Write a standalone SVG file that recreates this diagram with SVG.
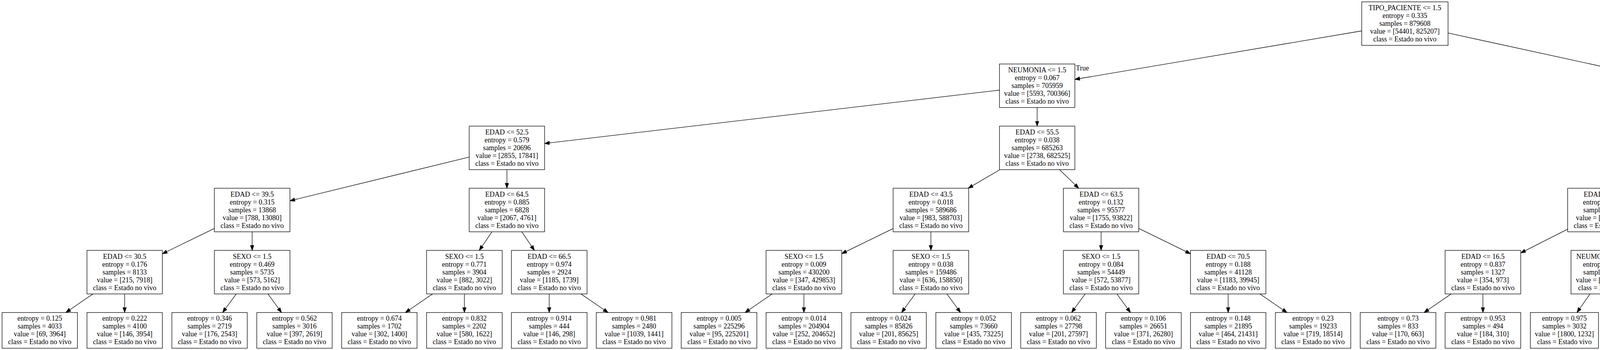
<svg xmlns="http://www.w3.org/2000/svg" width="6861" height="895" viewBox="0 0 6861 895">
<style>
.b{fill:#fff;stroke:#000;stroke-width:1.3}
.t{font-family:"Liberation Serif","Times New Roman",serif;font-size:18px;fill:#000;text-anchor:middle}
.e{stroke:#000;stroke-width:1.3;fill:none;marker-end:url(#ah)}
</style>
<defs>
<marker id="ah" markerUnits="userSpaceOnUse" markerWidth="14" markerHeight="10" refX="13" refY="4.7" orient="auto" viewBox="0 0 14 10">
<path d="M0,0 L13,4.7 L0,9.4 Z" fill="#000" stroke="#000" stroke-width="1"/>
</marker>
</defs>
<rect x="0" y="0" width="6861" height="895" fill="#fff"/>
<g id="edges">
<line class="e" x1="3486" y1="79" x2="2751.5" y2="203"/>
<line class="e" x1="3707" y1="84.4" x2="4226" y2="197.2"/>
<line class="e" x1="2558.7" y1="230.5" x2="1394.1" y2="366.9"/>
<line class="e" x1="2655.1" y1="274.9" x2="2655.1" y2="322.5"/>
<line class="e" x1="4327.2" y1="274.9" x2="4327.2" y2="322.5"/>
<line class="e" x1="4428.8" y1="232" x2="5495.4" y2="366"/>
<line class="e" x1="1201.3" y1="401.6" x2="742.3" y2="513.5"/>
<line class="e" x1="1297.7" y1="433.8" x2="1297.7" y2="481.4"/>
<line class="e" x1="2559.8" y1="433.8" x2="2478.4" y2="481.4"/>
<line class="e" x1="2712.4" y1="433.8" x2="2761.5" y2="481.4"/>
<line class="e" x1="4250.9" y1="433.8" x2="4185.8" y2="481.4"/>
<line class="e" x1="4401.3" y1="433.8" x2="4464.8" y2="481.4"/>
<line class="e" x1="5592.2" y1="433.8" x2="5592.2" y2="481.4"/>
<line class="e" x1="5689" y1="402.9" x2="6118.5" y2="512.4"/>
<line class="e" x1="548.7" y1="584.2" x2="415.6" y2="649"/>
<line class="e" x1="645.5" y1="592.7" x2="645.5" y2="640.3"/>
<line class="e" x1="1259.6" y1="592.7" x2="1226.9" y2="640.3"/>
<line class="e" x1="1335.6" y1="592.7" x2="1368.1" y2="640.3"/>
<line class="e" x1="2286.5" y1="584.3" x2="2154.8" y2="648.6"/>
<line class="e" x1="2383.1" y1="592.7" x2="2383.1" y2="640.3"/>
<line class="e" x1="2818.8" y1="592.7" x2="2818.8" y2="640.3"/>
<line class="e" x1="2915.3" y1="584.2" x2="3047.7" y2="648.9"/>
<line class="e" x1="4013.3" y1="585.9" x2="3893.1" y2="646.9"/>
<line class="e" x1="4109.7" y1="592.7" x2="4109.7" y2="640.3"/>
<line class="e" x1="4539" y1="592.7" x2="4539" y2="640.3"/>
<line class="e" x1="4635.4" y1="584.2" x2="4767.6" y2="648.8"/>
<line class="e" x1="5555.9" y1="592.7" x2="5524.8" y2="640.3"/>
<line class="e" x1="5628.7" y1="592.7" x2="5659.8" y2="640.3"/>
<line class="e" x1="6215" y1="592.7" x2="6215" y2="640.3"/>
<line class="e" x1="6311.5" y1="583.9" x2="6445.4" y2="648.9"/>
<line class="e" x1="237.9" y1="751.6" x2="168.4" y2="799.2"/>
<line class="e" x1="319.1" y1="751.6" x2="319.1" y2="799.2"/>
<line class="e" x1="604.8" y1="751.6" x2="569.9" y2="799.2"/>
<line class="e" x1="686" y1="751.6" x2="720.7" y2="799.2"/>
<line class="e" x1="1107.4" y1="751.6" x2="1037.8" y2="799.2"/>
<line class="e" x1="1188.8" y1="751.6" x2="1188.8" y2="799.2"/>
<line class="e" x1="1406" y1="751.6" x2="1406" y2="799.2"/>
<line class="e" x1="1487.2" y1="751.6" x2="1556.7" y2="799.2"/>
<line class="e" x1="1976.8" y1="751.6" x2="1907.3" y2="799.2"/>
<line class="e" x1="2058" y1="751.6" x2="2058" y2="799.2"/>
<line class="e" x1="2342.7" y1="751.6" x2="2308.1" y2="799.2"/>
<line class="e" x1="2424" y1="751.6" x2="2459" y2="799.2"/>
<line class="e" x1="2778.1" y1="751.6" x2="2743.2" y2="799.2"/>
<line class="e" x1="2859.3" y1="751.6" x2="2894" y2="799.2"/>
<line class="e" x1="3144.1" y1="751.6" x2="3144.1" y2="799.2"/>
<line class="e" x1="3225.3" y1="751.6" x2="3294.8" y2="799.2"/>
<line class="e" x1="3715.1" y1="751.6" x2="3645.6" y2="799.2"/>
<line class="e" x1="3796.3" y1="751.6" x2="3796.3" y2="799.2"/>
<line class="e" x1="4070.5" y1="751.6" x2="4037" y2="799.2"/>
<line class="e" x1="4148.2" y1="751.6" x2="4181.1" y2="799.2"/>
<line class="e" x1="4498.1" y1="751.6" x2="4463.1" y2="799.2"/>
<line class="e" x1="4579.3" y1="751.6" x2="4613.8" y2="799.2"/>
<line class="e" x1="4864" y1="751.6" x2="4864" y2="799.2"/>
<line class="e" x1="4945.4" y1="751.6" x2="5015" y2="799.2"/>
<line class="e" x1="5414.1" y1="751.6" x2="5350.5" y2="799.2"/>
<line class="e" x1="5488.5" y1="751.6" x2="5488.5" y2="799.2"/>
<line class="e" x1="5696.3" y1="751.6" x2="5696.3" y2="799.2"/>
<line class="e" x1="5773.1" y1="751.6" x2="5838.7" y2="799.2"/>
<line class="e" x1="6174.7" y1="751.6" x2="6140.3" y2="799.2"/>
<line class="e" x1="6255.9" y1="751.6" x2="6290.1" y2="799.2"/>
<line class="e" x1="6542.2" y1="751.6" x2="6542.2" y2="799.2"/>
<line class="e" x1="6623.3" y1="751.6" x2="6692.7" y2="799.2"/>
<text class="t" x="2771" y="180">True</text>
<text class="t" x="4206" y="173.5">False</text>
</g>
<g id="root" transform="translate(3596.5,4.7)"><rect class="b" x="-110.5" y="0" width="221" height="111.3"/><text class="t" y="21.3"><tspan x="0">TIPO_PACIENTE &lt;= 1.5</tspan><tspan x="0" dy="20">entropy = 0.335</tspan><tspan x="0" dy="20">samples = 879608</tspan><tspan x="0" dy="20">value = [54401, 825207]</tspan><tspan x="0" dy="20">class = Estado no vivo</tspan></text></g>
<g id="n1" transform="translate(2655.1,163.6)"><rect class="b" x="-96.5" y="0" width="193" height="111.3"/><text class="t" y="21.3"><tspan x="0">NEUMONIA &lt;= 1.5</tspan><tspan x="0" dy="20">entropy = 0.067</tspan><tspan x="0" dy="20">samples = 705959</tspan><tspan x="0" dy="20">value = [5593, 700366]</tspan><tspan x="0" dy="20">class = Estado no vivo</tspan></text></g>
<g id="n2" transform="translate(4327.4,163.6)"><rect class="b" x="-101.4" y="0" width="202.8" height="111.3"/><text class="t" y="21.3"><tspan x="0">EDAD &lt;= 49.5</tspan><tspan x="0" dy="20">entropy = 0.857</tspan><tspan x="0" dy="20">samples = 173649</tspan><tspan x="0" dy="20">value = [48808, 124841]</tspan><tspan x="0" dy="20">class = Estado no vivo</tspan></text></g>
<g id="n3" transform="translate(1297.7,322.5)"><rect class="b" x="-96.5" y="0" width="193" height="111.3"/><text class="t" y="21.3"><tspan x="0">EDAD &lt;= 52.5</tspan><tspan x="0" dy="20">entropy = 0.579</tspan><tspan x="0" dy="20">samples = 20696</tspan><tspan x="0" dy="20">value = [2855, 17841]</tspan><tspan x="0" dy="20">class = Estado no vivo</tspan></text></g>
<g id="n4" transform="translate(2655.1,322.5)"><rect class="b" x="-96.5" y="0" width="193" height="111.3"/><text class="t" y="21.3"><tspan x="0">EDAD &lt;= 55.5</tspan><tspan x="0" dy="20">entropy = 0.038</tspan><tspan x="0" dy="20">samples = 685263</tspan><tspan x="0" dy="20">value = [2738, 682525]</tspan><tspan x="0" dy="20">class = Estado no vivo</tspan></text></g>
<g id="n5" transform="translate(4327.2,322.5)"><rect class="b" x="-96.5" y="0" width="193" height="111.3"/><text class="t" y="21.3"><tspan x="0">INTUBADO &lt;= 1.5</tspan><tspan x="0" dy="20">entropy = 0.606</tspan><tspan x="0" dy="20">samples = 65573</tspan><tspan x="0" dy="20">value = [9727, 55846]</tspan><tspan x="0" dy="20">class = Estado no vivo</tspan></text></g>
<g id="n6" transform="translate(5592.2,322.5)"><rect class="b" x="-96.8" y="0" width="193.6" height="111.3"/><text class="t" y="21.3"><tspan x="0">INTUBADO &lt;= 1.5</tspan><tspan x="0" dy="20">entropy = 0.944</tspan><tspan x="0" dy="20">samples = 108076</tspan><tspan x="0" dy="20">value = [39081, 68995]</tspan><tspan x="0" dy="20">class = Estado no vivo</tspan></text></g>
<g id="n7" transform="translate(645.5,481.4)"><rect class="b" x="-96.8" y="0" width="193.6" height="111.3"/><text class="t" y="21.3"><tspan x="0">EDAD &lt;= 39.5</tspan><tspan x="0" dy="20">entropy = 0.315</tspan><tspan x="0" dy="20">samples = 13868</tspan><tspan x="0" dy="20">value = [788, 13080]</tspan><tspan x="0" dy="20">class = Estado no vivo</tspan></text></g>
<g id="n8" transform="translate(1297.7,481.4)"><rect class="b" x="-96.5" y="0" width="193" height="111.3"/><text class="t" y="21.3"><tspan x="0">EDAD &lt;= 64.5</tspan><tspan x="0" dy="20">entropy = 0.885</tspan><tspan x="0" dy="20">samples = 6828</tspan><tspan x="0" dy="20">value = [2067, 4761]</tspan><tspan x="0" dy="20">class = Estado no vivo</tspan></text></g>
<g id="n9" transform="translate(2383.1,481.4)"><rect class="b" x="-96.7" y="0" width="193.4" height="111.3"/><text class="t" y="21.3"><tspan x="0">EDAD &lt;= 43.5</tspan><tspan x="0" dy="20">entropy = 0.018</tspan><tspan x="0" dy="20">samples = 589686</tspan><tspan x="0" dy="20">value = [983, 588703]</tspan><tspan x="0" dy="20">class = Estado no vivo</tspan></text></g>
<g id="n10" transform="translate(2818.8,481.4)"><rect class="b" x="-96.5" y="0" width="193" height="111.3"/><text class="t" y="21.3"><tspan x="0">EDAD &lt;= 63.5</tspan><tspan x="0" dy="20">entropy = 0.132</tspan><tspan x="0" dy="20">samples = 95577</tspan><tspan x="0" dy="20">value = [1755, 93822]</tspan><tspan x="0" dy="20">class = Estado no vivo</tspan></text></g>
<g id="n11" transform="translate(4109.7,481.4)"><rect class="b" x="-96.5" y="0" width="193" height="111.3"/><text class="t" y="21.3"><tspan x="0">EDAD &lt;= 28.5</tspan><tspan x="0" dy="20">entropy = 0.999</tspan><tspan x="0" dy="20">samples = 4669</tspan><tspan x="0" dy="20">value = [2273, 2396]</tspan><tspan x="0" dy="20">class = Estado no vivo</tspan></text></g>
<g id="n12" transform="translate(4539,481.4)"><rect class="b" x="-96.5" y="0" width="193" height="111.3"/><text class="t" y="21.3"><tspan x="0">EDAD &lt;= 36.5</tspan><tspan x="0" dy="20">entropy = 0.536</tspan><tspan x="0" dy="20">samples = 60904</tspan><tspan x="0" dy="20">value = [7454, 53450]</tspan><tspan x="0" dy="20">class = Estado no vivo</tspan></text></g>
<g id="n13" transform="translate(5592.2,481.4)"><rect class="b" x="-87.6" y="0" width="175.2" height="111.3"/><text class="t" y="21.3"><tspan x="0">NEUMONIA &lt;= 1.5</tspan><tspan x="0" dy="20">entropy = 0.892</tspan><tspan x="0" dy="20">samples = 10156</tspan><tspan x="0" dy="20">value = [7018, 3138]</tspan><tspan x="0" dy="20">class = Estado vivo</tspan></text></g>
<g id="n14" transform="translate(6215,481.4)"><rect class="b" x="-96.5" y="0" width="193" height="111.3"/><text class="t" y="21.3"><tspan x="0">EDAD &lt;= 63.5</tspan><tspan x="0" dy="20">entropy = 0.912</tspan><tspan x="0" dy="20">samples = 97920</tspan><tspan x="0" dy="20">value = [32063, 65857]</tspan><tspan x="0" dy="20">class = Estado no vivo</tspan></text></g>
<g id="n15" transform="translate(319.1,640.3)"><rect class="b" x="-96.5" y="0" width="193" height="111.3"/><text class="t" y="21.3"><tspan x="0">EDAD &lt;= 30.5</tspan><tspan x="0" dy="20">entropy = 0.176</tspan><tspan x="0" dy="20">samples = 8133</tspan><tspan x="0" dy="20">value = [215, 7918]</tspan><tspan x="0" dy="20">class = Estado no vivo</tspan></text></g>
<g id="n16" transform="translate(645.5,640.3)"><rect class="b" x="-96.8" y="0" width="193.6" height="111.3"/><text class="t" y="21.3"><tspan x="0">SEXO &lt;= 1.5</tspan><tspan x="0" dy="20">entropy = 0.469</tspan><tspan x="0" dy="20">samples = 5735</tspan><tspan x="0" dy="20">value = [573, 5162]</tspan><tspan x="0" dy="20">class = Estado no vivo</tspan></text></g>
<g id="n17" transform="translate(1188.8,640.3)"><rect class="b" x="-96.8" y="0" width="193.6" height="111.3"/><text class="t" y="21.3"><tspan x="0">SEXO &lt;= 1.5</tspan><tspan x="0" dy="20">entropy = 0.771</tspan><tspan x="0" dy="20">samples = 3904</tspan><tspan x="0" dy="20">value = [882, 3022]</tspan><tspan x="0" dy="20">class = Estado no vivo</tspan></text></g>
<g id="n18" transform="translate(1406,640.3)"><rect class="b" x="-96.8" y="0" width="193.6" height="111.3"/><text class="t" y="21.3"><tspan x="0">EDAD &lt;= 66.5</tspan><tspan x="0" dy="20">entropy = 0.974</tspan><tspan x="0" dy="20">samples = 2924</tspan><tspan x="0" dy="20">value = [1185, 1739]</tspan><tspan x="0" dy="20">class = Estado no vivo</tspan></text></g>
<g id="n19" transform="translate(2058,640.3)"><rect class="b" x="-96.8" y="0" width="193.6" height="111.3"/><text class="t" y="21.3"><tspan x="0">SEXO &lt;= 1.5</tspan><tspan x="0" dy="20">entropy = 0.009</tspan><tspan x="0" dy="20">samples = 430200</tspan><tspan x="0" dy="20">value = [347, 429853]</tspan><tspan x="0" dy="20">class = Estado no vivo</tspan></text></g>
<g id="n20" transform="translate(2383.1,640.3)"><rect class="b" x="-96.7" y="0" width="193.4" height="111.3"/><text class="t" y="21.3"><tspan x="0">SEXO &lt;= 1.5</tspan><tspan x="0" dy="20">entropy = 0.038</tspan><tspan x="0" dy="20">samples = 159486</tspan><tspan x="0" dy="20">value = [636, 158850]</tspan><tspan x="0" dy="20">class = Estado no vivo</tspan></text></g>
<g id="n21" transform="translate(2818.8,640.3)"><rect class="b" x="-96.5" y="0" width="193" height="111.3"/><text class="t" y="21.3"><tspan x="0">SEXO &lt;= 1.5</tspan><tspan x="0" dy="20">entropy = 0.084</tspan><tspan x="0" dy="20">samples = 54449</tspan><tspan x="0" dy="20">value = [572, 53877]</tspan><tspan x="0" dy="20">class = Estado no vivo</tspan></text></g>
<g id="n22" transform="translate(3144.1,640.3)"><rect class="b" x="-96.5" y="0" width="193" height="111.3"/><text class="t" y="21.3"><tspan x="0">EDAD &lt;= 70.5</tspan><tspan x="0" dy="20">entropy = 0.188</tspan><tspan x="0" dy="20">samples = 41128</tspan><tspan x="0" dy="20">value = [1183, 39945]</tspan><tspan x="0" dy="20">class = Estado no vivo</tspan></text></g>
<g id="n23" transform="translate(3796.3,640.3)"><rect class="b" x="-96.8" y="0" width="193.6" height="111.3"/><text class="t" y="21.3"><tspan x="0">EDAD &lt;= 16.5</tspan><tspan x="0" dy="20">entropy = 0.837</tspan><tspan x="0" dy="20">samples = 1327</tspan><tspan x="0" dy="20">value = [354, 973]</tspan><tspan x="0" dy="20">class = Estado no vivo</tspan></text></g>
<g id="n24" transform="translate(4109.7,640.3)"><rect class="b" x="-88" y="0" width="176" height="111.3"/><text class="t" y="21.3"><tspan x="0">NEUMONIA &lt;= 1.5</tspan><tspan x="0" dy="20">entropy = 0.984</tspan><tspan x="0" dy="20">samples = 3342</tspan><tspan x="0" dy="20">value = [1919, 1423]</tspan><tspan x="0" dy="20">class = Estado vivo</tspan></text></g>
<g id="n25" transform="translate(4539,640.3)"><rect class="b" x="-96.5" y="0" width="193" height="111.3"/><text class="t" y="21.3"><tspan x="0">NEUMONIA &lt;= 1.5</tspan><tspan x="0" dy="20">entropy = 0.375</tspan><tspan x="0" dy="20">samples = 27906</tspan><tspan x="0" dy="20">value = [2024, 25882]</tspan><tspan x="0" dy="20">class = Estado no vivo</tspan></text></g>
<g id="n26" transform="translate(4864,640.3)"><rect class="b" x="-96.5" y="0" width="193" height="111.3"/><text class="t" y="21.3"><tspan x="0">NEUMONIA &lt;= 1.5</tspan><tspan x="0" dy="20">entropy = 0.645</tspan><tspan x="0" dy="20">samples = 32998</tspan><tspan x="0" dy="20">value = [5430, 27568]</tspan><tspan x="0" dy="20">class = Estado no vivo</tspan></text></g>
<g id="n27" transform="translate(5488.5,640.3)"><rect class="b" x="-87.2" y="0" width="174.4" height="111.3"/><text class="t" y="21.3"><tspan x="0">EDAD &lt;= 61.5</tspan><tspan x="0" dy="20">entropy = 0.871</tspan><tspan x="0" dy="20">samples = 9362</tspan><tspan x="0" dy="20">value = [6633, 2729]</tspan><tspan x="0" dy="20">class = Estado vivo</tspan></text></g>
<g id="n28" transform="translate(5696.3,640.3)"><rect class="b" x="-96.8" y="0" width="193.6" height="111.3"/><text class="t" y="21.3"><tspan x="0">UCI &lt;= 1.5</tspan><tspan x="0" dy="20">entropy = 0.999</tspan><tspan x="0" dy="20">samples = 794</tspan><tspan x="0" dy="20">value = [385, 409]</tspan><tspan x="0" dy="20">class = Estado no vivo</tspan></text></g>
<g id="n29" transform="translate(6215,640.3)"><rect class="b" x="-96.5" y="0" width="193" height="111.3"/><text class="t" y="21.3"><tspan x="0">NEUMONIA &lt;= 1.5</tspan><tspan x="0" dy="20">entropy = 0.844</tspan><tspan x="0" dy="20">samples = 47711</tspan><tspan x="0" dy="20">value = [12961, 34750]</tspan><tspan x="0" dy="20">class = Estado no vivo</tspan></text></g>
<g id="n30" transform="translate(6542.2,640.3)"><rect class="b" x="-96.8" y="0" width="193.6" height="111.3"/><text class="t" y="21.3"><tspan x="0">NEUMONIA &lt;= 1.5</tspan><tspan x="0" dy="20">entropy = 0.958</tspan><tspan x="0" dy="20">samples = 50209</tspan><tspan x="0" dy="20">value = [19102, 31107]</tspan><tspan x="0" dy="20">class = Estado no vivo</tspan></text></g>
<g id="leaf1" transform="translate(101.8,799.2)"><rect class="b" x="-96.5" y="0" width="193" height="91.3"/><text class="t" y="21.3"><tspan x="0">entropy = 0.125</tspan><tspan x="0" dy="20">samples = 4033</tspan><tspan x="0" dy="20">value = [69, 3964]</tspan><tspan x="0" dy="20">class = Estado no vivo</tspan></text></g>
<g id="leaf2" transform="translate(319.1,799.2)"><rect class="b" x="-96.5" y="0" width="193" height="91.3"/><text class="t" y="21.3"><tspan x="0">entropy = 0.222</tspan><tspan x="0" dy="20">samples = 4100</tspan><tspan x="0" dy="20">value = [146, 3954]</tspan><tspan x="0" dy="20">class = Estado no vivo</tspan></text></g>
<g id="leaf3" transform="translate(536.5,799.2)"><rect class="b" x="-96.5" y="0" width="193" height="91.3"/><text class="t" y="21.3"><tspan x="0">entropy = 0.346</tspan><tspan x="0" dy="20">samples = 2719</tspan><tspan x="0" dy="20">value = [176, 2543]</tspan><tspan x="0" dy="20">class = Estado no vivo</tspan></text></g>
<g id="leaf4" transform="translate(753.9,799.2)"><rect class="b" x="-96.5" y="0" width="193" height="91.3"/><text class="t" y="21.3"><tspan x="0">entropy = 0.562</tspan><tspan x="0" dy="20">samples = 3016</tspan><tspan x="0" dy="20">value = [397, 2619]</tspan><tspan x="0" dy="20">class = Estado no vivo</tspan></text></g>
<g id="leaf5" transform="translate(971.1,799.2)"><rect class="b" x="-96.5" y="0" width="193" height="91.3"/><text class="t" y="21.3"><tspan x="0">entropy = 0.674</tspan><tspan x="0" dy="20">samples = 1702</tspan><tspan x="0" dy="20">value = [302, 1400]</tspan><tspan x="0" dy="20">class = Estado no vivo</tspan></text></g>
<g id="leaf6" transform="translate(1188.8,799.2)"><rect class="b" x="-96.8" y="0" width="193.6" height="91.3"/><text class="t" y="21.3"><tspan x="0">entropy = 0.832</tspan><tspan x="0" dy="20">samples = 2202</tspan><tspan x="0" dy="20">value = [580, 1622]</tspan><tspan x="0" dy="20">class = Estado no vivo</tspan></text></g>
<g id="leaf7" transform="translate(1406,799.2)"><rect class="b" x="-96.8" y="0" width="193.6" height="91.3"/><text class="t" y="21.3"><tspan x="0">entropy = 0.914</tspan><tspan x="0" dy="20">samples = 444</tspan><tspan x="0" dy="20">value = [146, 298]</tspan><tspan x="0" dy="20">class = Estado no vivo</tspan></text></g>
<g id="leaf8" transform="translate(1623.3,799.2)"><rect class="b" x="-96.8" y="0" width="193.6" height="91.3"/><text class="t" y="21.3"><tspan x="0">entropy = 0.981</tspan><tspan x="0" dy="20">samples = 2480</tspan><tspan x="0" dy="20">value = [1039, 1441]</tspan><tspan x="0" dy="20">class = Estado no vivo</tspan></text></g>
<g id="leaf9" transform="translate(1840.7,799.2)"><rect class="b" x="-96.8" y="0" width="193.6" height="91.3"/><text class="t" y="21.3"><tspan x="0">entropy = 0.005</tspan><tspan x="0" dy="20">samples = 225296</tspan><tspan x="0" dy="20">value = [95, 225201]</tspan><tspan x="0" dy="20">class = Estado no vivo</tspan></text></g>
<g id="leaf10" transform="translate(2058,799.2)"><rect class="b" x="-96.8" y="0" width="193.6" height="91.3"/><text class="t" y="21.3"><tspan x="0">entropy = 0.014</tspan><tspan x="0" dy="20">samples = 204904</tspan><tspan x="0" dy="20">value = [252, 204652]</tspan><tspan x="0" dy="20">class = Estado no vivo</tspan></text></g>
<g id="leaf11" transform="translate(2274.9,799.2)"><rect class="b" x="-96.5" y="0" width="193" height="91.3"/><text class="t" y="21.3"><tspan x="0">entropy = 0.024</tspan><tspan x="0" dy="20">samples = 85826</tspan><tspan x="0" dy="20">value = [201, 85625]</tspan><tspan x="0" dy="20">class = Estado no vivo</tspan></text></g>
<g id="leaf12" transform="translate(2492.5,799.2)"><rect class="b" x="-96.8" y="0" width="193.6" height="91.3"/><text class="t" y="21.3"><tspan x="0">entropy = 0.052</tspan><tspan x="0" dy="20">samples = 73660</tspan><tspan x="0" dy="20">value = [435, 73225]</tspan><tspan x="0" dy="20">class = Estado no vivo</tspan></text></g>
<g id="leaf13" transform="translate(2709.8,799.2)"><rect class="b" x="-96.8" y="0" width="193.6" height="91.3"/><text class="t" y="21.3"><tspan x="0">entropy = 0.062</tspan><tspan x="0" dy="20">samples = 27798</tspan><tspan x="0" dy="20">value = [201, 27597]</tspan><tspan x="0" dy="20">class = Estado no vivo</tspan></text></g>
<g id="leaf14" transform="translate(2927.2,799.2)"><rect class="b" x="-96.8" y="0" width="193.6" height="91.3"/><text class="t" y="21.3"><tspan x="0">entropy = 0.106</tspan><tspan x="0" dy="20">samples = 26651</tspan><tspan x="0" dy="20">value = [371, 26280]</tspan><tspan x="0" dy="20">class = Estado no vivo</tspan></text></g>
<g id="leaf15" transform="translate(3144.1,799.2)"><rect class="b" x="-96.5" y="0" width="193" height="91.3"/><text class="t" y="21.3"><tspan x="0">entropy = 0.148</tspan><tspan x="0" dy="20">samples = 21895</tspan><tspan x="0" dy="20">value = [464, 21431]</tspan><tspan x="0" dy="20">class = Estado no vivo</tspan></text></g>
<g id="leaf16" transform="translate(3361.4,799.2)"><rect class="b" x="-96.5" y="0" width="193" height="91.3"/><text class="t" y="21.3"><tspan x="0">entropy = 0.23</tspan><tspan x="0" dy="20">samples = 19233</tspan><tspan x="0" dy="20">value = [719, 18514]</tspan><tspan x="0" dy="20">class = Estado no vivo</tspan></text></g>
<g id="leaf17" transform="translate(3579,799.2)"><rect class="b" x="-96.8" y="0" width="193.6" height="91.3"/><text class="t" y="21.3"><tspan x="0">entropy = 0.73</tspan><tspan x="0" dy="20">samples = 833</tspan><tspan x="0" dy="20">value = [170, 663]</tspan><tspan x="0" dy="20">class = Estado no vivo</tspan></text></g>
<g id="leaf18" transform="translate(3796.3,799.2)"><rect class="b" x="-96.8" y="0" width="193.6" height="91.3"/><text class="t" y="21.3"><tspan x="0">entropy = 0.953</tspan><tspan x="0" dy="20">samples = 494</tspan><tspan x="0" dy="20">value = [184, 310]</tspan><tspan x="0" dy="20">class = Estado no vivo</tspan></text></g>
<g id="leaf19" transform="translate(4004.9,799.2)"><rect class="b" x="-87.25" y="0" width="174.5" height="91.3"/><text class="t" y="21.3"><tspan x="0">entropy = 0.975</tspan><tspan x="0" dy="20">samples = 3032</tspan><tspan x="0" dy="20">value = [1800, 1232]</tspan><tspan x="0" dy="20">class = Estado vivo</tspan></text></g>
<g id="leaf20" transform="translate(4212.6,799.2)"><rect class="b" x="-96.8" y="0" width="193.6" height="91.3"/><text class="t" y="21.3"><tspan x="0">entropy = 0.961</tspan><tspan x="0" dy="20">samples = 310</tspan><tspan x="0" dy="20">value = [119, 191]</tspan><tspan x="0" dy="20">class = Estado no vivo</tspan></text></g>
<g id="leaf21" transform="translate(4429.6,799.2)"><rect class="b" x="-96.5" y="0" width="193" height="91.3"/><text class="t" y="21.3"><tspan x="0">entropy = 0.501</tspan><tspan x="0" dy="20">samples = 11766</tspan><tspan x="0" dy="20">value = [1297, 10469]</tspan><tspan x="0" dy="20">class = Estado no vivo</tspan></text></g>
<g id="leaf22" transform="translate(4646.8,799.2)"><rect class="b" x="-96.5" y="0" width="193" height="91.3"/><text class="t" y="21.3"><tspan x="0">entropy = 0.265</tspan><tspan x="0" dy="20">samples = 16140</tspan><tspan x="0" dy="20">value = [727, 15413]</tspan><tspan x="0" dy="20">class = Estado no vivo</tspan></text></g>
<g id="leaf23" transform="translate(4864,799.2)"><rect class="b" x="-96.5" y="0" width="193" height="91.3"/><text class="t" y="21.3"><tspan x="0">entropy = 0.732</tspan><tspan x="0" dy="20">samples = 18561</tspan><tspan x="0" dy="20">value = [3803, 14758]</tspan><tspan x="0" dy="20">class = Estado no vivo</tspan></text></g>
<g id="leaf24" transform="translate(5081.8,799.2)"><rect class="b" x="-96.8" y="0" width="193.6" height="91.3"/><text class="t" y="21.3"><tspan x="0">entropy = 0.508</tspan><tspan x="0" dy="20">samples = 14437</tspan><tspan x="0" dy="20">value = [1627, 12810]</tspan><tspan x="0" dy="20">class = Estado no vivo</tspan></text></g>
<g id="leaf25" transform="translate(5289.5,799.2)"><rect class="b" x="-87.25" y="0" width="174.5" height="91.3"/><text class="t" y="21.3"><tspan x="0">entropy = 0.903</tspan><tspan x="0" dy="20">samples = 3855</tspan><tspan x="0" dy="20">value = [2626, 1229]</tspan><tspan x="0" dy="20">class = Estado vivo</tspan></text></g>
<g id="leaf26" transform="translate(5488.5,799.2)"><rect class="b" x="-87.2" y="0" width="174.4" height="91.3"/><text class="t" y="21.3"><tspan x="0">entropy = 0.845</tspan><tspan x="0" dy="20">samples = 5507</tspan><tspan x="0" dy="20">value = [4007, 1500]</tspan><tspan x="0" dy="20">class = Estado vivo</tspan></text></g>
<g id="leaf27" transform="translate(5696.3,799.2)"><rect class="b" x="-96.8" y="0" width="193.6" height="91.3"/><text class="t" y="21.3"><tspan x="0">entropy = 0.92</tspan><tspan x="0" dy="20">samples = 200</tspan><tspan x="0" dy="20">value = [67, 133]</tspan><tspan x="0" dy="20">class = Estado no vivo</tspan></text></g>
<g id="leaf28" transform="translate(5901.7,799.2)"><rect class="b" x="-84.55" y="0" width="169.1" height="91.3"/><text class="t" y="21.3"><tspan x="0">entropy = 0.996</tspan><tspan x="0" dy="20">samples = 594</tspan><tspan x="0" dy="20">value = [318, 276]</tspan><tspan x="0" dy="20">class = Estado vivo</tspan></text></g>
<g id="leaf29" transform="translate(6107.2,799.2)"><rect class="b" x="-96.5" y="0" width="193" height="91.3"/><text class="t" y="21.3"><tspan x="0">entropy = 0.896</tspan><tspan x="0" dy="20">samples = 29090</tspan><tspan x="0" dy="20">value = [9096, 19994]</tspan><tspan x="0" dy="20">class = Estado no vivo</tspan></text></g>
<g id="leaf30" transform="translate(6324.5,799.2)"><rect class="b" x="-96.5" y="0" width="193" height="91.3"/><text class="t" y="21.3"><tspan x="0">entropy = 0.737</tspan><tspan x="0" dy="20">samples = 18621</tspan><tspan x="0" dy="20">value = [3865, 14756]</tspan><tspan x="0" dy="20">class = Estado no vivo</tspan></text></g>
<g id="leaf31" transform="translate(6542.2,799.2)"><rect class="b" x="-96.8" y="0" width="193.6" height="91.3"/><text class="t" y="21.3"><tspan x="0">entropy = 0.983</tspan><tspan x="0" dy="20">samples = 30898</tspan><tspan x="0" dy="20">value = [13114, 17784]</tspan><tspan x="0" dy="20">class = Estado no vivo</tspan></text></g>
<g id="leaf32" transform="translate(6759.2,799.2)"><rect class="b" x="-96.5" y="0" width="193" height="91.3"/><text class="t" y="21.3"><tspan x="0">entropy = 0.893</tspan><tspan x="0" dy="20">samples = 19311</tspan><tspan x="0" dy="20">value = [5988, 13323]</tspan><tspan x="0" dy="20">class = Estado no vivo</tspan></text></g>
</svg>
